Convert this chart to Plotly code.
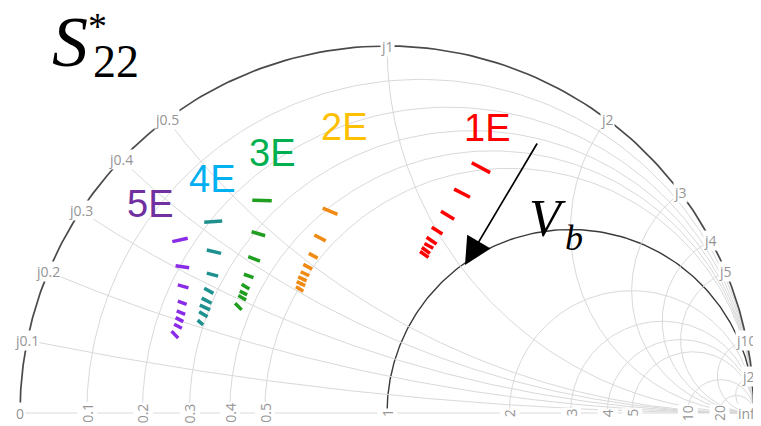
import numpy as np
import plotly.graph_objects as go

# ---- data: S22* (reflection coefficient) dashes, start -> end, per bias group ----
groups = ["1E", "2E", "3E", "4E", "5E"]

e1_start_re = [0.231, 0.183, 0.147, 0.122, 0.108, 0.102, 0.095, 0.090]
e1_start_im = [0.682, 0.610, 0.550, 0.506, 0.479, 0.462, 0.451, 0.440]
e1_end_re = [0.281, 0.226, 0.183, 0.151, 0.135, 0.126, 0.117, 0.113]
e1_end_im = [0.655, 0.588, 0.528, 0.488, 0.460, 0.449, 0.435, 0.424]

e2_start_re = [-0.175, -0.198, -0.213, -0.228, -0.235, -0.242, -0.246, -0.248]
e2_start_im = [0.558, 0.485, 0.435, 0.405, 0.385, 0.371, 0.358, 0.344]
e2_end_re = [-0.135, -0.167, -0.189, -0.204, -0.212, -0.219, -0.223, -0.228]
e2_end_im = [0.541, 0.469, 0.422, 0.392, 0.374, 0.360, 0.347, 0.332]

e3_start_re = [-0.367, -0.369, -0.378, -0.390, -0.396, -0.401, -0.405, -0.414]
e3_start_im = [0.580, 0.494, 0.426, 0.378, 0.351, 0.332, 0.320, 0.299]
e3_end_re = [-0.314, -0.332, -0.346, -0.364, -0.375, -0.381, -0.384, -0.396]
e3_end_im = [0.578, 0.483, 0.414, 0.369, 0.338, 0.322, 0.308, 0.281]

e4_start_re = [-0.498, -0.491, -0.491, -0.498, -0.505, -0.510, -0.512, -0.516]
e4_start_im = [0.520, 0.444, 0.381, 0.340, 0.313, 0.294, 0.276, 0.253]
e4_end_re = [-0.449, -0.452, -0.460, -0.473, -0.478, -0.482, -0.489, -0.501]
e4_end_im = [0.523, 0.435, 0.373, 0.326, 0.299, 0.281, 0.262, 0.240]

e5_start_re = [-0.585, -0.576, -0.570, -0.570, -0.573, -0.576, -0.580, -0.587]
e5_start_im = [0.467, 0.401, 0.349, 0.305, 0.278, 0.260, 0.242, 0.223]
e5_end_re = [-0.543, -0.539, -0.541, -0.546, -0.550, -0.555, -0.559, -0.569]
e5_end_im = [0.476, 0.396, 0.341, 0.296, 0.269, 0.249, 0.231, 0.204]

# smith-chart grid values and tick labels
r_ticks = [0.1, 0.2, 0.3, 0.4, 0.5, 1, 2, 3, 4, 5, 10, 20]
x_ticks = [0.1, 0.2, 0.3, 0.4, 0.5, 1, 2, 3, 4, 5, 10, 20]

# ---- styles ----
dash_colors = ["#ff0000", "#f08a12", "#1f9e1f", "#1e9090", "#8a2be8"]
label_colors = ["#ff0000", "#ffc000", "#00b050", "#00b0f0", "#7030a0"]
label_pos = [(487, 128), (344, 127), (272, 153), (212, 179), (150, 204)]

W, H = 761, 426
OFF = 8  # page body margin
CX, CY, R = 387 - OFF, 413 - OFF, 367


def gamma(z):
    return (z - 1) / (z + 1)


def paper(px, py):
    return (px - OFF) / W, 1 - (py - OFF) / H


fig = go.Figure()

t = np.concatenate([[0.0], np.logspace(-3, 4.5, 700)])
grid_col = "#d9d9d9"
# resistance circles
for r in r_ticks:
    g = gamma(r + 1j * t)
    fig.add_trace(go.Scatter(x=g.real, y=g.imag, mode="lines",
                             line=dict(color="#3a3a3a" if r == 1 else grid_col,
                                       width=1.4 if r == 1 else 1),
                             hoverinfo="skip"))
# reactance arcs
for xv in x_ticks:
    g = gamma(t + 1j * xv)
    fig.add_trace(go.Scatter(x=g.real, y=g.imag, mode="lines",
                             line=dict(color=grid_col, width=1), hoverinfo="skip"))
# real axis
fig.add_trace(go.Scatter(x=[-1, 1], y=[0, 0], mode="lines",
                         line=dict(color=grid_col, width=1), hoverinfo="skip"))
# outer circle (r = 0)
g0 = gamma(1j * t)
fig.add_trace(go.Scatter(x=g0.real, y=g0.imag, mode="lines",
                         line=dict(color="#4a4a4a", width=1.7), hoverinfo="skip"))

# ---- data dashes ----
data = [
    (e1_start_re, e1_start_im, e1_end_re, e1_end_im),
    (e2_start_re, e2_start_im, e2_end_re, e2_end_im),
    (e3_start_re, e3_start_im, e3_end_re, e3_end_im),
    (e4_start_re, e4_start_im, e4_end_re, e4_end_im),
    (e5_start_re, e5_start_im, e5_end_re, e5_end_im),
]
for name, (sr, si, er, ei), col in zip(groups, data, dash_colors):
    xs, ys = [], []
    for a, b, c, d in zip(sr, si, er, ei):
        xs += [a, c, None]
        ys += [b, d, None]
    fig.add_trace(go.Scatter(x=xs, y=ys, mode="lines", name=name,
                             line=dict(color=col, width=3.5)))

ann = []
lab_font = dict(family="Open Sans, Arial", size=14, color="#959595")
# imaginary labels on the outer circle
for xv in x_ticks:
    g = gamma(1j * xv)
    ann.append(dict(x=g.real, y=g.imag, xref="x", yref="y", text=f"j{xv:g}",
                    showarrow=False, font=lab_font, bgcolor="white",
                    xanchor="center", yanchor="middle", borderpad=0))
# real labels
for r in r_ticks:
    g = gamma(r)
    ann.append(dict(x=g, y=0, xref="x", yref="y", text=f"{r:g}", textangle=-90,
                    showarrow=False, font=lab_font, bgcolor="white",
                    xanchor="center", yanchor="middle", borderpad=0))
ann.append(dict(x=-1, y=0, xref="x", yref="y", text="0", showarrow=False,
                font=lab_font, bgcolor="white", xanchor="center", yanchor="middle"))
ann.append(dict(x=1, y=0, xref="x", yref="y", text="inf", showarrow=False,
                font=lab_font, bgcolor="white", xanchor="left", xshift=-17,
                yanchor="middle", borderpad=0))

# group labels
for name, col, (px, py) in zip(groups, label_colors, label_pos):
    xp, yp = paper(px, py)
    ann.append(dict(x=xp, y=yp, xref="paper", yref="paper", text=name, showarrow=False,
                    font=dict(family="Liberation Sans, Arial", size=38, color=col),
                    xanchor="center", yanchor="middle"))

# title S*22
serif = "Liberation Serif, Times New Roman, serif"
for txt, (px, py), size in [("<i>S</i>", (70, 42), 72), ("22", (116, 61), 46),
                            ("*", (97, 26), 38)]:
    xp, yp = paper(px, py)
    ann.append(dict(x=xp, y=yp, xref="paper", yref="paper", text=txt, showarrow=False,
                    font=dict(family=serif, size=size, color="black"),
                    xanchor="center", yanchor="middle"))
# V_b
for txt, (px, py), size in [("<i>V</i>", (547, 219), 52), ("<i>b</i>", (574, 238), 36)]:
    xp, yp = paper(px, py)
    ann.append(dict(x=xp, y=yp, xref="paper", yref="paper", text=txt, showarrow=False,
                    font=dict(family=serif, size=size, color="black"),
                    xanchor="center", yanchor="middle"))

# arrow
ann.append(dict(x=(465 - OFF - CX) / R, y=(CY - (265 - OFF)) / R, xref="x", yref="y",
                ax=(538 - OFF - CX) / R, ay=(CY - (142 - OFF)) / R, axref="x", ayref="y",
                showarrow=True, arrowhead=2, arrowsize=3.2, arrowwidth=1.7,
                arrowcolor="black", text=""))

fig.update_layout(
    width=W, height=H, margin=dict(l=0, r=0, t=0, b=0),
    paper_bgcolor="white", plot_bgcolor="white", showlegend=False,
    annotations=ann,
)
fig.update_xaxes(range=[-CX / R, (W - CX) / R], visible=False, fixedrange=True)
fig.update_yaxes(range=[-(H - CY) / R, CY / R], visible=False, fixedrange=True)

fig.write_html("out.html")
